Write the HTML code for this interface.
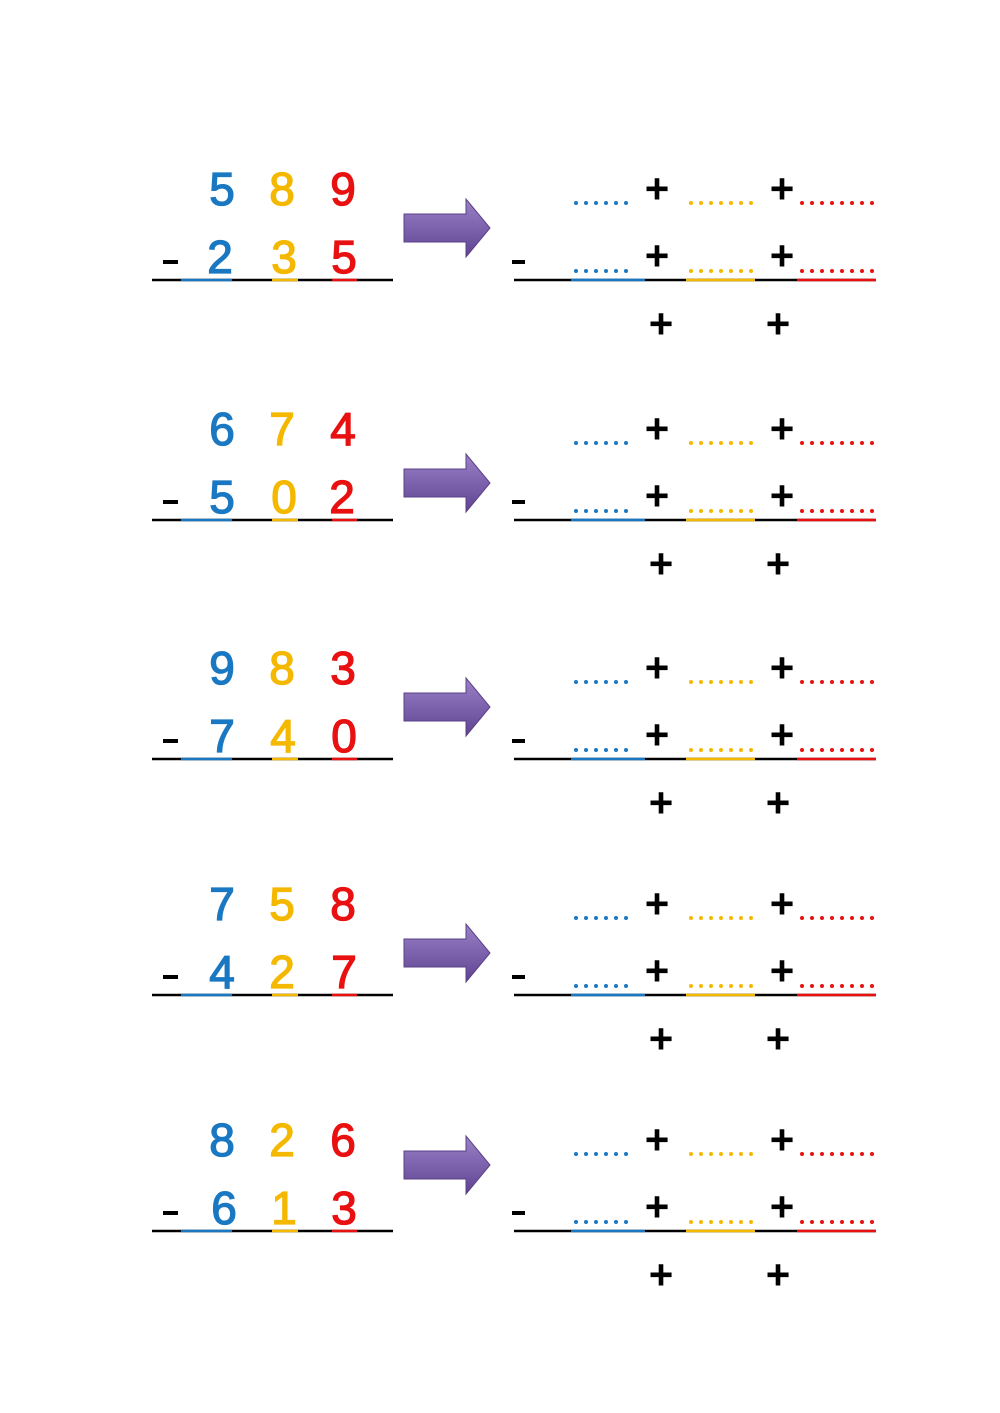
<!DOCTYPE html>
<html><head><meta charset="utf-8"><style>
html,body{margin:0;padding:0;background:#fff;}
svg{display:block;}
.d{font-family:"Liberation Sans",sans-serif;font-size:46px;text-anchor:middle;stroke-width:1.3;}
.p{font-family:"Liberation Sans",sans-serif;font-size:42px;font-weight:bold;text-anchor:middle;fill:#000;}
.b{fill:#1a78c2;stroke:#1a78c2;} .y{fill:#f5b800;stroke:#f5b800;} .r{fill:#e81010;stroke:#e81010;}
</style></head><body>
<svg width="1000" height="1413" viewBox="0 0 1000 1413" xmlns="http://www.w3.org/2000/svg">
<defs>
<linearGradient id="ag" x1="0" y1="0" x2="0" y2="1">
<stop offset="0" stop-color="#9a82c4"/><stop offset="0.5" stop-color="#7d62ae"/><stop offset="1" stop-color="#5e4490"/>
</linearGradient>
<g id="right">
<line x1="514" y1="0" x2="876" y2="0" stroke="#000" stroke-width="2.5"/>
<line x1="571" y1="0" x2="645" y2="0" stroke="#1a78c2" stroke-width="2.5"/>
<line x1="686" y1="0" x2="755" y2="0" stroke="#f5b800" stroke-width="2.5"/>
<line x1="797" y1="0" x2="876" y2="0" stroke="#e81010" stroke-width="2.5"/>
<rect x="512" y="-20" width="13" height="4" fill="#000"/>
<line x1="576" y1="-77" x2="627" y2="-77" stroke="#1a78c2" stroke-width="4" stroke-linecap="round" stroke-dasharray="0 10"/>
<line x1="576" y1="-9" x2="627" y2="-9" stroke="#1a78c2" stroke-width="4" stroke-linecap="round" stroke-dasharray="0 10"/>
<line x1="691" y1="-77" x2="752" y2="-77" stroke="#f5b800" stroke-width="4" stroke-linecap="round" stroke-dasharray="0 10"/>
<line x1="691" y1="-9" x2="752" y2="-9" stroke="#f5b800" stroke-width="4" stroke-linecap="round" stroke-dasharray="0 10"/>
<line x1="802" y1="-77" x2="873" y2="-77" stroke="#e81010" stroke-width="4" stroke-linecap="round" stroke-dasharray="0 10"/>
<line x1="802" y1="-9" x2="873" y2="-9" stroke="#e81010" stroke-width="4" stroke-linecap="round" stroke-dasharray="0 10"/>
<text class="p" x="657" y="-77">+</text>
<text class="p" x="782" y="-77">+</text>
<text class="p" x="657" y="-10">+</text>
<text class="p" x="782" y="-10">+</text>
<text class="p" x="661" y="58">+</text>
<text class="p" x="778" y="58">+</text>
</g>
<g id="left">
<line x1="152" y1="0" x2="393" y2="0" stroke="#000" stroke-width="2.5"/>
<line x1="181" y1="0" x2="232" y2="0" stroke="#1a78c2" stroke-width="2.5"/>
<line x1="272" y1="0" x2="298" y2="0" stroke="#f5b800" stroke-width="2.5"/>
<line x1="332" y1="0" x2="357" y2="0" stroke="#e81010" stroke-width="2.5"/>
<rect x="163" y="-20" width="15" height="4" fill="#000"/>
</g>
<path id="arrow" d="M404,-14 L466,-14 L466,-29 L490,0 L466,29 L466,14 L404,14 Z" fill="url(#ag)" stroke="#5a4088" stroke-width="1"/>
</defs>

<g transform="translate(0,280)">
<use href="#left"/><use href="#right"/><use href="#arrow" transform="translate(0,-52)"/>
<text class="d b" x="222" y="-75">5</text><text class="d y" x="282" y="-75">8</text><text class="d r" x="343" y="-75">9</text>
<text class="d b" x="220" y="-7">2</text><text class="d y" x="284" y="-7">3</text><text class="d r" x="344" y="-7">5</text>
</g>
<g transform="translate(0,520)">
<use href="#left"/><use href="#right"/><use href="#arrow" transform="translate(0,-37)"/>
<text class="d b" x="222" y="-75">6</text><text class="d y" x="282" y="-75">7</text><text class="d r" x="343" y="-75">4</text>
<text class="d b" x="222" y="-7">5</text><text class="d y" x="284" y="-7">0</text><text class="d r" x="342" y="-7">2</text>
</g>
<g transform="translate(0,759)">
<use href="#left"/><use href="#right"/><use href="#arrow" transform="translate(0,-52)"/>
<text class="d b" x="222" y="-75">9</text><text class="d y" x="282" y="-75">8</text><text class="d r" x="343" y="-75">3</text>
<text class="d b" x="222" y="-7">7</text><text class="d y" x="283" y="-7">4</text><text class="d r" x="344" y="-7">0</text>
</g>
<g transform="translate(0,995)">
<use href="#left"/><use href="#right"/><use href="#arrow" transform="translate(0,-42)"/>
<text class="d b" x="222" y="-75">7</text><text class="d y" x="282" y="-75">5</text><text class="d r" x="343" y="-75">8</text>
<text class="d b" x="222" y="-7">4</text><text class="d y" x="282" y="-7">2</text><text class="d r" x="344" y="-7">7</text>
</g>
<g transform="translate(0,1231)">
<use href="#left"/><use href="#right"/><use href="#arrow" transform="translate(0,-66)"/>
<text class="d b" x="222" y="-75">8</text><text class="d y" x="282" y="-75">2</text><text class="d r" x="343" y="-75">6</text>
<text class="d b" x="224" y="-7">6</text><text class="d y" x="284" y="-7">1</text><text class="d r" x="344" y="-7">3</text>
</g>
</svg>
</body></html>
